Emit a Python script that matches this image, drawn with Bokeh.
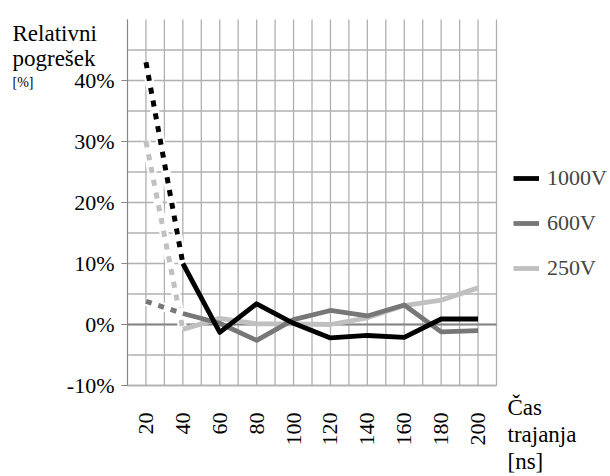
from math import pi
from bokeh.plotting import figure
from bokeh.models import FixedTicker, PrintfTickFormatter, Legend, LegendItem
from bokeh.core.properties import value
from bokeh.embed import file_html
from bokeh.resources import INLINE

# ---- data ----
ns = [20, 40, 60, 80, 100, 120, 140, 160, 180, 200]
v1000 = [43.0, 10.0, -1.3, 3.4, 0.2, -2.2, -1.8, -2.1, 0.9, 0.9]
v600 = [3.8, 1.8, 0.2, -2.6, 0.8, 2.3, 1.4, 3.2, -1.2, -1.0]
v250 = [30.0, -0.8, 1.0, 0.1, 0.1, 0.0, 1.1, 3.1, 4.0, 6.0]
series_names = ["1000V", "600V", "250V"]
y_ticks = [-10, 0, 10, 20, 30, 40]
x_grid = list(range(10, 211, 10))
y_grid = list(range(-10, 50, 5))
x_lo, x_hi = 10, 210
y_lo, y_hi = -10, 50
y_title = ["Relativni", "pogrešek"]
y_unit = "[%]"
x_title = ["Čas", "trajanja", "[ns]"]

FONT = "Liberation Serif"
GRID = "#b0b0b0"
AXIS = "#868686"

W, H = 610, 476
# plot area pixels
PX0, PX1 = 127, 496
PY0, PY1 = 19, 385
sx = (x_hi - x_lo) / (PX1 - PX0)
sy = (y_hi - y_lo) / (PY1 - PY0)

p = figure(x_range=(x_lo - PX0 * sx, x_hi + (W - PX1) * sx),
           y_range=(y_lo - (H - PY1) * sy, y_hi + PY0 * sy),
           frame_width=W, frame_height=H,
           min_border=0, min_border_left=0, min_border_right=0,
           min_border_top=0, min_border_bottom=0,
           output_backend="svg", toolbar_location=None)
p.outline_line_color = None
p.background_fill_color = "white"
p.border_fill_color = "white"
p.grid.visible = False

# grid lines limited to the plot area
p.segment(x0=x_grid, y0=[y_lo] * len(x_grid), x1=x_grid, y1=[y_hi] * len(x_grid),
          line_color=GRID, line_width=1.3)
p.segment(x0=[x_lo] * len(y_grid), y0=y_grid, x1=[x_hi] * len(y_grid), y1=y_grid,
          line_color=GRID, line_width=1.3)
# zero line
p.segment(x0=[x_lo], y0=[0], x1=[x_hi], y1=[0], line_color=AXIS, line_width=2)

# x axis
xa = p.xaxis[0]
xa.fixed_location = y_lo
xa.bounds = (x_lo, x_hi)
xa.ticker = FixedTicker(ticks=ns)
xa.major_label_orientation = pi / 2
xa.major_label_text_font = FONT
xa.major_label_text_font_size = "22px"
xa.major_label_text_color = "black"
xa.major_tick_out = 0
xa.major_tick_in = 0
xa.minor_tick_line_color = None
xa.axis_line_color = GRID
xa.axis_line_width = 1.3
xa.major_label_standoff = 27

# y axis
ya = p.yaxis[0]
ya.fixed_location = x_lo
ya.bounds = (y_lo, y_hi)
ya.ticker = FixedTicker(ticks=y_ticks)
ya.formatter = PrintfTickFormatter(format="%d%%")
ya.major_label_text_font = FONT
ya.major_label_text_font_size = "22px"
ya.major_label_text_color = "black"
ya.major_tick_out = 6
ya.major_tick_in = 0
ya.minor_tick_line_color = None
ya.axis_line_color = AXIS
ya.major_tick_line_color = AXIS
ya.major_label_standoff = 7

colors = {"1000V": "black", "600V": "#777777", "250V": "#c0c0c0"}
values = {"1000V": v1000, "600V": v600, "250V": v250}

solid = {}
for name in ["250V", "600V", "1000V"]:
    vals = values[name]
    c = colors[name]
    p.line(ns[:2], vals[:2], line_color="white", line_width=9)
    p.line(ns[:2], vals[:2], line_color=c, line_width=5, line_dash="6 7")
    solid[name] = p.line(ns[1:], vals[1:], line_color=c, line_width=4.8, line_join="round")

legend = Legend(items=[LegendItem(label=n, renderers=[solid[n]]) for n in series_names],
                location=(513, H - 281), orientation="vertical",
                glyph_width=26, glyph_height=26, label_height=26, spacing=19,
                padding=0, margin=0, border_line_color=None, background_fill_alpha=0,
                label_text_font=FONT, label_text_font_size="22px", label_standoff=8)
p.add_layout(legend)


def dx(ix):
    return x_lo + (ix - PX0) * sx


def dy(iy):
    return y_hi - (iy - PY0) * sy


def texts(xs, ys, words, size):
    p.text(x=[dx(v) for v in xs], y=[dy(v) for v in ys], text=words,
           text_font=value(FONT), text_font_size=value(size), text_color="black",
           text_baseline="alphabetic", text_align="left")


texts([12, 12], [33, 58], y_title, "23px")
texts([12], [82], [y_unit], "14px")
texts([507, 507, 507], [407, 434, 461], x_title, "23px")

open("out.html", "w").write(file_html(p, INLINE))
